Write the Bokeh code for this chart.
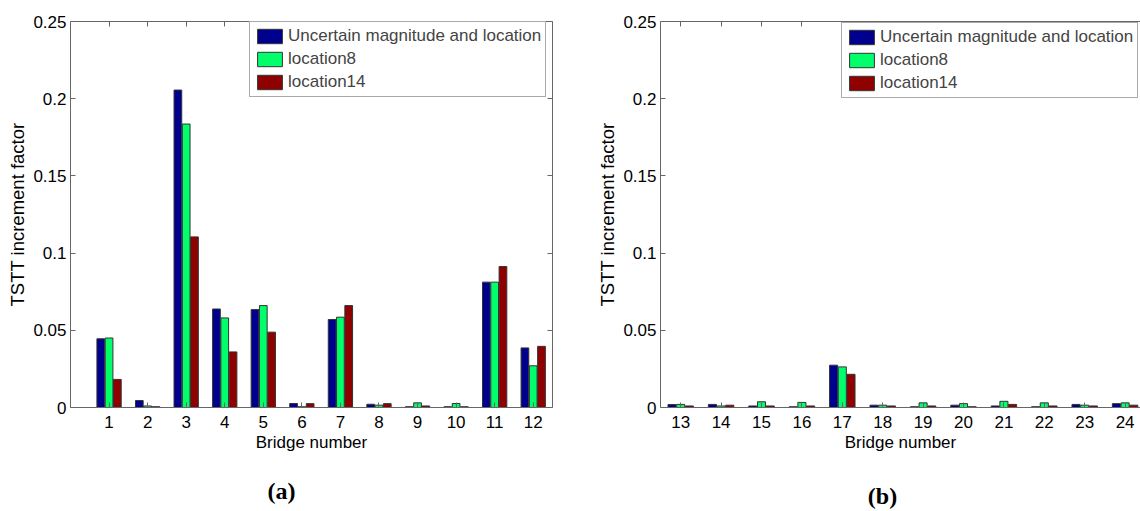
import numpy as np
from bokeh.plotting import figure
from bokeh.layouts import row
from bokeh.models import Range1d, LinearAxis, FixedTicker, ColumnDataSource
from bokeh.embed import file_html
from bokeh.resources import INLINE

# ---------------- data ----------------
series_names = ["Uncertain magnitude and location", "location8", "location14"]
series_colors = ["#00008F", "#00FF6A", "#8F0000"]

bridges_a = [1, 2, 3, 4, 5, 6, 7, 8, 9, 10, 11, 12]
uncertain_a = [0.0445, 0.0045, 0.2056, 0.0638, 0.0634, 0.0026, 0.0570, 0.0021, 0.0005, 0.0005, 0.0812, 0.0386]
loc8_a = [0.0450, 0.0010, 0.1836, 0.0580, 0.0660, 0.0005, 0.0585, 0.0015, 0.0030, 0.0026, 0.0812, 0.0270]
loc14_a = [0.0182, 0.0005, 0.1105, 0.0360, 0.0488, 0.0025, 0.0660, 0.0025, 0.0010, 0.0005, 0.0913, 0.0396]

bridges_b = [13, 14, 15, 16, 17, 18, 19, 20, 21, 22, 23, 24]
uncertain_b = [0.0019, 0.0020, 0.0010, 0.0005, 0.0274, 0.0015, 0.0005, 0.0015, 0.0010, 0.0005, 0.0020, 0.0025]
loc8_b = [0.0020, 0.0010, 0.0037, 0.0033, 0.0263, 0.0015, 0.0030, 0.0025, 0.0040, 0.0030, 0.0015, 0.0030]
loc14_b = [0.0010, 0.0015, 0.0010, 0.0010, 0.0215, 0.0010, 0.0010, 0.0005, 0.0020, 0.0010, 0.0010, 0.0015]

y_ticks = [0, 0.05, 0.1, 0.15, 0.2, 0.25]
y_tick_labels = ["0", "0.05", "0.1", "0.15", "0.2", "0.25"]
captions = ["(a)", "(b)"]

FONT = "Liberation Sans"
AXC = "#666666"
offsets = [-0.215, 0.0, 0.215]
bar_w = 0.2
NBSP = "\u00a0"


def style_axis(ax, labels=True):
    ax.axis_line_color = AXC
    ax.major_tick_line_color = AXC
    ax.minor_tick_line_color = None
    ax.major_tick_in = 5
    ax.major_tick_out = 0
    ax.major_label_text_font = FONT
    ax.major_label_text_font_size = "17px"
    ax.major_label_text_color = "black"
    ax.axis_label_text_font = FONT
    ax.axis_label_text_font_style = "normal"
    ax.axis_label_text_color = "black"
    if not labels:
        ax.major_label_text_font_size = "0px"
        ax.major_label_text_alpha = 0


def make_panel(bridges, vals, width, xr, border_left, border_right, border_top, border_bottom,
               legend_loc, caption, cap_pad, cap_standoff, right_axis):
    p = figure(width=width, height=511, output_backend="svg", toolbar_location=None,
               x_range=Range1d(*xr), y_range=Range1d(0, 0.25),
               min_border_left=border_left, min_border_right=border_right,
               min_border_top=border_top, min_border_bottom=border_bottom)
    p.background_fill_color = "white"
    p.border_fill_color = "white"
    p.outline_line_color = None
    p.grid.visible = False

    b = np.array(bridges, dtype=float)
    for name, col, off, v in zip(series_names, series_colors, offsets, vals):
        src = ColumnDataSource(dict(x=b + off, top=v))
        p.vbar(x="x", top="top", width=bar_w, bottom=0, source=src, fill_color=col,
               line_color="#333333", line_width=1, legend_label=name)

    p.xaxis.ticker = FixedTicker(ticks=list(bridges))
    p.yaxis.ticker = FixedTicker(ticks=y_ticks)
    p.yaxis.major_label_overrides = {t: s for t, s in zip(y_ticks, y_tick_labels)}
    p.xaxis.axis_label = "Bridge number"
    p.yaxis.axis_label = "TSTT increment factor"
    style_axis(p.xaxis[0])
    style_axis(p.yaxis[0])
    p.xaxis.major_label_standoff = 8
    p.xaxis.axis_label_standoff = 2
    p.xaxis.axis_label_text_font_size = "17px"
    p.yaxis.major_label_standoff = 4
    p.yaxis.axis_label_standoff = 2
    p.yaxis.axis_label_text_font_size = "18.5px"

    top = LinearAxis(ticker=FixedTicker(ticks=list(bridges)))
    style_axis(top, labels=False)
    p.add_layout(top, "above")
    if right_axis:
        r = LinearAxis(ticker=FixedTicker(ticks=y_ticks))
        style_axis(r, labels=False)
        p.add_layout(r, "right")

    lg = p.legend[0]
    lg.location = legend_loc
    lg.label_text_font = FONT
    lg.label_text_font_size = "17px"
    lg.glyph_width = 31
    lg.glyph_height = 18
    lg.label_height = 18
    lg.label_standoff = 3
    lg.spacing = 3
    lg.padding = 4
    lg.margin = 0
    lg.border_line_color = "#555555"
    lg.border_line_width = 1
    lg.background_fill_color = "white"
    lg.background_fill_alpha = 1

    # caption "(a)" / "(b)" below the x-axis title, as a tickless axis label
    cap = LinearAxis(ticker=FixedTicker(ticks=[]), axis_label=caption + NBSP * cap_pad)
    cap.axis_line_color = None
    cap.major_tick_line_color = None
    cap.minor_tick_line_color = None
    cap.major_label_text_font_size = "0px"
    cap.major_label_standoff = 0
    cap.major_tick_out = 0
    cap.major_tick_in = 0
    cap.axis_label_standoff = cap_standoff
    cap.axis_label_text_font = "Liberation Serif"
    cap.axis_label_text_font_size = "24px"
    cap.axis_label_text_font_style = "bold"
    cap.axis_label_text_color = "black"
    p.add_layout(cap, "below")
    return p


pa = make_panel(bridges_a, [uncertain_a, loc8_a, loc14_a], 580, (0, 12.5), 70, 28, 21, 101,
                (179, 310), captions[0], 10, 23, True)
pb = make_panel(bridges_b, [uncertain_b, loc8_b, loc14_b], 560, (12.5, 12.5 + 480 / 40.4), 80, 0, 19, 104,
                (181, 309), captions[1], 6, 28, False)

layout = row(pa, pb, spacing=0)
open("out.html", "w").write(file_html(layout, INLINE))
